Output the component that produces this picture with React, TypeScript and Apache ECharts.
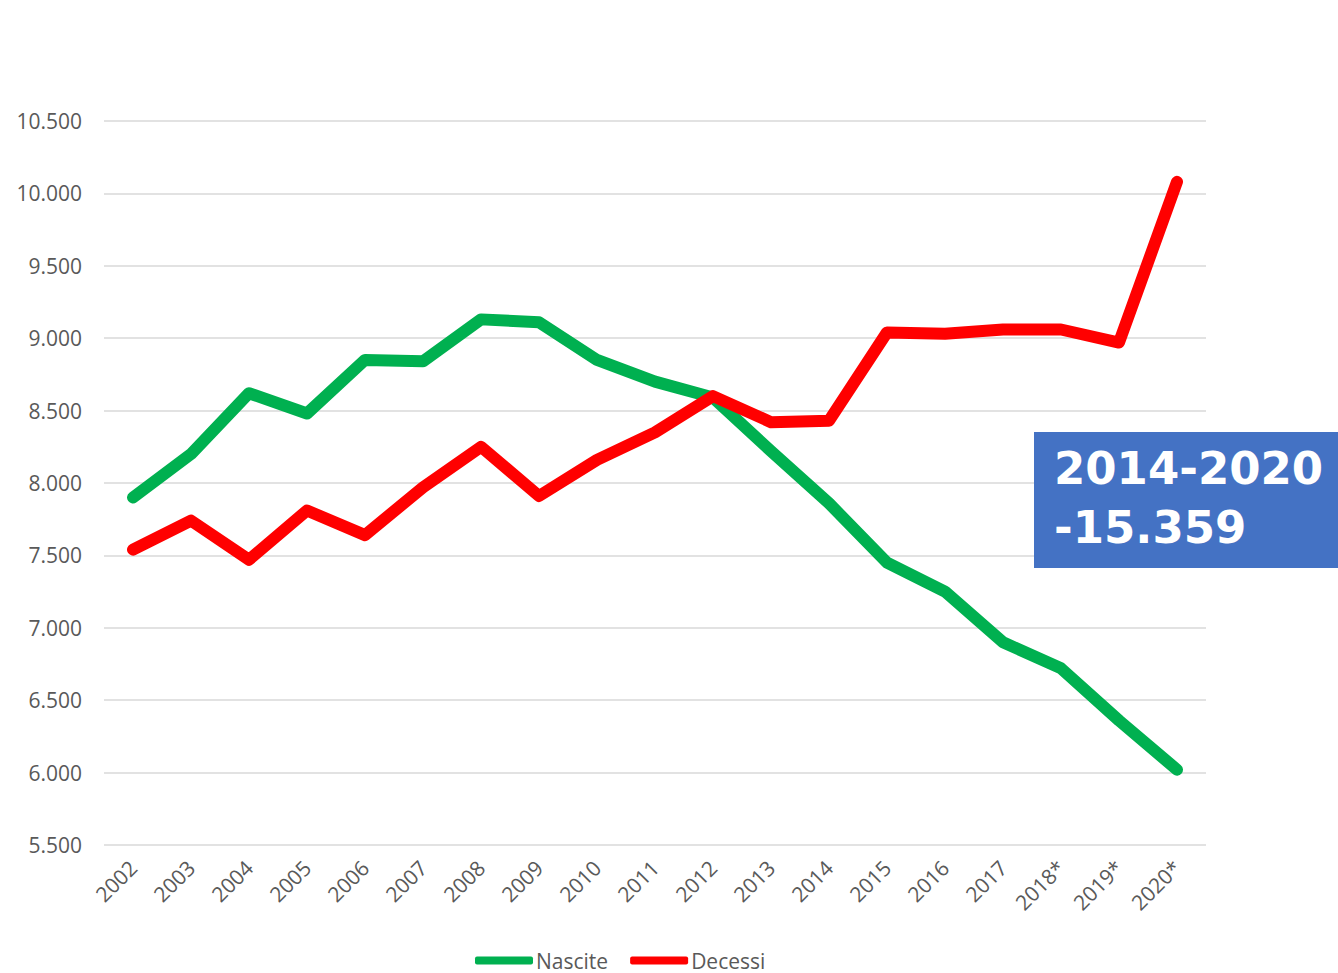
import React, { useEffect, useRef } from "react";
import * as echarts from "echarts";

const categories = ["2002","2003","2004","2005","2006","2007","2008","2009","2010","2011","2012","2013","2014","2015","2016","2017","2018*","2019*","2020*"];
const nascite = [7900, 8200, 8620, 8480, 8850, 8840, 9130, 9110, 8850, 8700, 8590, 8220, 7860, 7450, 7250, 6900, 6720, 6360, 6020];
const decessi = [7540, 7740, 7470, 7810, 7640, 7970, 8250, 7910, 8160, 8350, 8600, 8420, 8430, 9040, 9030, 9060, 9060, 8970, 10080];
const yMin = 5500;
const yMax = 10500;
const yStep = 500;
const boxLines = ["2014-2020", "-15.359"];

const fmt = (v: number) => String(v).replace(/\B(?=(\d{3})+(?!\d))/g, ".");

export default function App() {
  const ref = useRef<HTMLDivElement>(null);
  useEffect(() => {
    document.body.style.margin = "0";
    const chart = echarts.init(ref.current!, null, { renderer: "svg" });
    const font = "'Open Sans', sans-serif";
    chart.setOption({
      animation: false,
      backgroundColor: "#ffffff",
      grid: { left: 104, right: 132, top: 121, bottom: 128, containLabel: false },
      legend: {
        left: 475,
        top: 950,
        padding: 0,
        itemWidth: 58,
        itemHeight: 8,
        itemGap: 22,
        icon: "roundRect",
        textStyle: { fontFamily: font, fontSize: 21, color: "#595959", padding: [0, 0, 0, -2] },
        data: ["Nascite", "Decessi"],
      },
      xAxis: {
        type: "category",
        data: categories,
        boundaryGap: true,
        axisLine: { show: false },
        axisTick: { show: false },
        axisLabel: { rotate: 45, fontFamily: font, fontSize: 21, color: "#595959", margin: 19, interval: 0 },
      },
      yAxis: {
        type: "value",
        min: yMin,
        max: yMax,
        interval: yStep,
        axisLine: { show: false },
        axisTick: { show: false },
        splitLine: { lineStyle: { color: "#d9d9d9", width: 1.5 } },
        axisLabel: { fontFamily: font, fontSize: 21, color: "#595959", margin: 22, formatter: (v: number) => fmt(v) },
      },
      series: [
        {
          name: "Nascite",
          type: "line",
          data: nascite,
          symbol: "none",
          itemStyle: { color: "#00B050" },
          lineStyle: { color: "#00B050", width: 12, cap: "round", join: "round" },
        },
        {
          name: "Decessi",
          type: "line",
          data: decessi,
          symbol: "none",
          itemStyle: { color: "#FF0000" },
          lineStyle: { color: "#FF0000", width: 12, cap: "round", join: "round" },
        },
      ],
      graphic: [
        {
          type: "rect",
          shape: { x: 1034, y: 432, width: 304, height: 136 },
          style: { fill: "#4472C4" },
          z: 100,
        },
        {
          type: "text",
          x: 1054,
          y: 498,
          z: 101,
          style: {
            text: boxLines.join("\n"),
            fill: "#ffffff",
            font: "bold 45px 'DejaVu Sans', sans-serif",
            lineHeight: 59,
            verticalAlign: "middle",
            align: "left",
          },
        },
      ],
    });
    return () => chart.dispose();
  }, []);
  return <div ref={ref} style={{ width: 1338, height: 973 }} />;
}
